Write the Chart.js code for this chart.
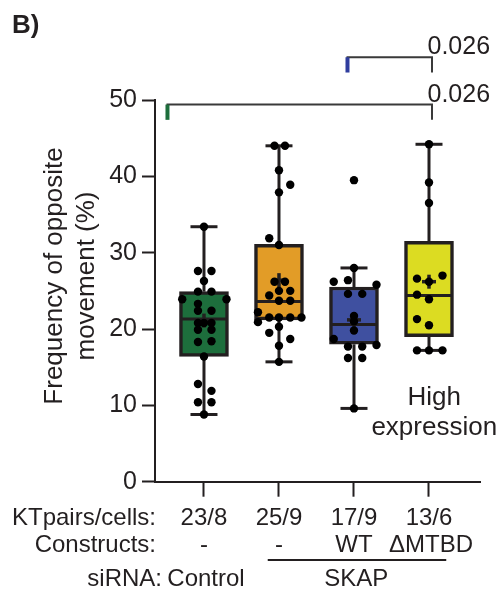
<!DOCTYPE html>
<html>
<head>
<meta charset="utf-8">
<script src="https://cdn.jsdelivr.net/npm/chart.js@4.4.1/dist/chart.umd.min.js"></script>
<style>
  html, body { margin: 0; padding: 0; background: #fff; }
  #wrap { width: 502px; height: 590px; }
</style>
</head>
<body>
<div id="wrap"><canvas id="boxChart" width="502" height="590"></canvas></div>
<script>
const ktPairs    = ['23/8', '25/9', '17/9', '13/6'];
const constructs = ['-', '-', 'WT', 'ΔMTBD'];
const boxColors  = ['#1d6e3c', '#e29c27', '#3f50a0', '#dcdc22'];

const mins    = [8.8, 15.7, 9.6, 17.2];
const q1s     = [16.4, 21.2, 18.0, 19.0];
const medians = [21.3, 23.6, 20.6, 24.4];
const q3s     = [24.9, 31.1, 25.5, 31.5];
const maxs    = [33.4, 44.0, 28.0, 44.2];
const means   = [21.1, 26.4, 21.2, 26.2];

// individual KT pairs, with horizontal jitter (category units)
const ctrlVals = [33.4, 27.6, 27.6, 26.3, 24.9, 24.9, 23.9, 23.9, 23.3, 22.4, 22.4, 20.8, 20.8, 20.8, 19.9, 19.9, 18.3, 18.4, 16.4, 12.8, 11.9, 10.4, 10.4, 8.8];
const ctrlJit  = [0, -0.08, 0.1, 0, -0.08, 0.1, -0.29, 0.3, -0.08, -0.08, 0.1, -0.08, 0, 0.1, -0.08, 0.1, -0.08, 0.1, 0, -0.08, 0.1, -0.08, 0.1, 0];
const skapVals = [44.0, 44.0, 40.8, 38.9, 37.9, 31.9, 31.0, 26.2, 26.2, 25.0, 25.0, 24.4, 23.7, 23.7, 22.2, 21.5, 21.5, 21.5, 21.5, 20.9, 20.3, 19.5, 18.7, 17.8, 15.7];
const skapJit  = [-0.06, 0.08, 0, 0.15, 0, -0.13, 0, -0.06, 0.08, 0, 0.15, -0.13, 0, 0.15, -0.28, -0.13, 0, 0.15, 0.3, -0.28, 0, -0.13, 0.15, 0, 0];
const wtVals   = [39.5, 28.0, 26.2, 26.4, 25.8, 24.6, 24.6, 21.7, 21.0, 19.8, 18.7, 17.7, 17.7, 17.9, 16.2, 16.2, 9.6];
const wtJit    = [0, 0, -0.27, -0.08, 0.3, -0.08, 0.11, 0, 0, 0, -0.27, -0.08, 0.11, 0.3, -0.08, 0.11, 0];
const mtbdVals = [44.2, 39.2, 36.5, 27.0, 26.6, 26.2, 24.5, 23.9, 21.3, 20.5, 17.2, 17.2, 17.2];
const mtbdJit  = [0, 0, 0, 0.18, -0.16, 0, -0.16, 0, -0.16, 0, -0.16, 0, 0.18];

const pValues = ['0.026', '0.026'];

const ink = '#231f20';
const FONT = '"Liberation Sans", Arial, sans-serif';

const allVals = [ctrlVals, skapVals, wtVals, mtbdVals];
const allJit  = [ctrlJit, skapJit, wtJit, mtbdJit];
const points = [];
allVals.forEach((vals, g) => vals.forEach((v, k) => points.push({ x: g + allJit[g][k], y: v })));

const boxExtras = {
    id: 'boxExtras',
    afterDatasetDraw(chart, args) {
        if (args.meta.type !== 'bar') return;
        const { ctx, scales: { x, y } } = chart;
        ctx.save();
        ctx.strokeStyle = ink;
        ctx.lineWidth = 3;
        ctx.lineCap = 'butt';
        mins.forEach((mn, i) => {
            const cx = x.getPixelForValue(i);
            const line = (x1, y1, x2, y2) => { ctx.beginPath(); ctx.moveTo(x1, y1); ctx.lineTo(x2, y2); ctx.stroke(); };
            // whiskers + caps
            line(cx, y.getPixelForValue(q3s[i]), cx, y.getPixelForValue(maxs[i]));
            line(cx, y.getPixelForValue(q1s[i]), cx, y.getPixelForValue(mn));
            line(cx - 13.5, y.getPixelForValue(maxs[i]), cx + 13.5, y.getPixelForValue(maxs[i]));
            line(cx - 13.5, y.getPixelForValue(mn), cx + 13.5, y.getPixelForValue(mn));
            // median
            line(cx - 23, y.getPixelForValue(medians[i]), cx + 23, y.getPixelForValue(medians[i]));
            // mean cross
            const my = y.getPixelForValue(means[i]);
            ctx.lineWidth = 3.5;
            line(cx - 7, my, cx + 7, my);
            line(cx, my - 7, cx, my + 7);
            ctx.lineWidth = 3;
        });
        ctx.restore();
    },
    afterDraw(chart) {
        const { ctx, scales: { x, y } } = chart;
        ctx.save();
        ctx.fillStyle = ink;

        // panel letter
        ctx.font = `bold 26px ${FONT}`;
        ctx.textAlign = 'left';
        ctx.textBaseline = 'alphabetic';
        ctx.fillText('B)', 12, 33);

        // y axis title
        ctx.font = `26px ${FONT}`;
        ctx.textAlign = 'center';
        [['Frequency of opposite', 62], ['movement (%)', 94]].forEach(([t, bx]) => {
            ctx.save();
            ctx.translate(bx, 276);
            ctx.rotate(-Math.PI / 2);
            ctx.fillText(t, 0, 0);
            ctx.restore();
        });

        // significance brackets
        const bracket = (x1, x2, yv, yEnd, markColor) => {
            const py = y.getPixelForValue(yv);
            const pe = y.getPixelForValue(yEnd);
            const px1 = x.getPixelForValue(x1);
            const px2 = x.getPixelForValue(x2);
            ctx.strokeStyle = '#3a3a3a';
            ctx.lineWidth = 2;
            ctx.beginPath();
            ctx.moveTo(px1, py);
            ctx.lineTo(px2, py);
            ctx.lineTo(px2, pe);
            ctx.stroke();
            ctx.strokeStyle = markColor;
            ctx.lineWidth = 4;
            ctx.beginPath();
            ctx.moveTo(px1 + 1, py);
            ctx.lineTo(px1 + 1, pe);
            ctx.stroke();
        };
        bracket(-0.5, 3.04, 49.4, 47.4, boxColors[0]);
        bracket(1.9, 3.04, 55.6, 53.6, '#2f3d9e');
        ctx.font = `25px ${FONT}`;
        ctx.textAlign = 'left';
        ctx.fillText(pValues[0], x.getPixelForValue(2.98), 54);
        ctx.fillText(pValues[1], x.getPixelForValue(2.98), 102);

        // annotation
        ctx.font = `26px ${FONT}`;
        ctx.textAlign = 'center';
        ctx.fillText('High', x.getPixelForValue(3.07), 405);
        ctx.fillText('expression', x.getPixelForValue(3.07), 435);

        // table below the axis
        ctx.font = `24px ${FONT}`;
        ctx.textAlign = 'right';
        ctx.fillText('KTpairs/cells:', 156, 525);
        ctx.fillText('Constructs:', 156, 552);
        ctx.fillText('siRNA:', 162, 586);
        ctx.textAlign = 'center';
        ktPairs.forEach((t, i) => ctx.fillText(t, x.getPixelForValue(i), 525));
        constructs.forEach((t, i) => ctx.fillText(t, x.getPixelForValue(i) + (i === 3 ? 2 : 0), 552));
        ctx.fillText('Control', x.getPixelForValue(0) + 2, 586);
        ctx.fillText('SKAP', x.getPixelForValue(2.03), 586);
        ctx.strokeStyle = ink;
        ctx.lineWidth = 2;
        ctx.beginPath();
        ctx.moveTo(x.getPixelForValue(0.85), 560);
        ctx.lineTo(x.getPixelForValue(3.23), 560);
        ctx.stroke();
        ctx.restore();
    }
};

new Chart(document.getElementById('boxChart'), {
    type: 'bar',
    data: {
        datasets: [
            {
                type: 'bar',
                label: 'box',
                data: q1s.map((q, i) => ({ x: i, y: [q, q3s[i]] })),
                backgroundColor: boxColors,
                borderColor: ink,
                borderWidth: 3.5,
                borderSkipped: false,
                barThickness: 49,
                order: 2,
            },
            {
                type: 'scatter',
                label: 'KT pairs',
                data: points,
                pointRadius: 4.2,
                pointBackgroundColor: '#000',
                pointBorderWidth: 0,
                order: 1,
            }
        ]
    },
    options: {
        responsive: false,
        animation: false,
        devicePixelRatio: 1,
        layout: { padding: { top: 100, right: 22, left: 0, bottom: 0 } },
        plugins: { legend: { display: false }, tooltip: { enabled: false } },
        scales: {
            x: {
                type: 'linear',
                offset: false,
                min: -0.653,
                max: 3.68,
                afterFit: s => { s.height = 108.3; },
                ticks: { display: false, stepSize: 1, includeBounds: false },
                grid: { offset: false, drawOnChartArea: false, tickLength: 15, tickWidth: 2, tickColor: ink },
                border: { display: true, color: ink, width: 2 }
            },
            y: {
                min: 0,
                max: 50,
                afterFit: s => { s.width = 155; },
                ticks: {
                    stepSize: 10,
                    padding: 5,
                    color: ink,
                    font: { family: FONT, size: 25 },
                },
                grid: { drawOnChartArea: false, tickLength: 13, tickWidth: 2, tickColor: ink },
                border: { display: true, color: ink, width: 2 }
            }
        }
    },
    plugins: [boxExtras]
});
</script>
</body>
</html>
